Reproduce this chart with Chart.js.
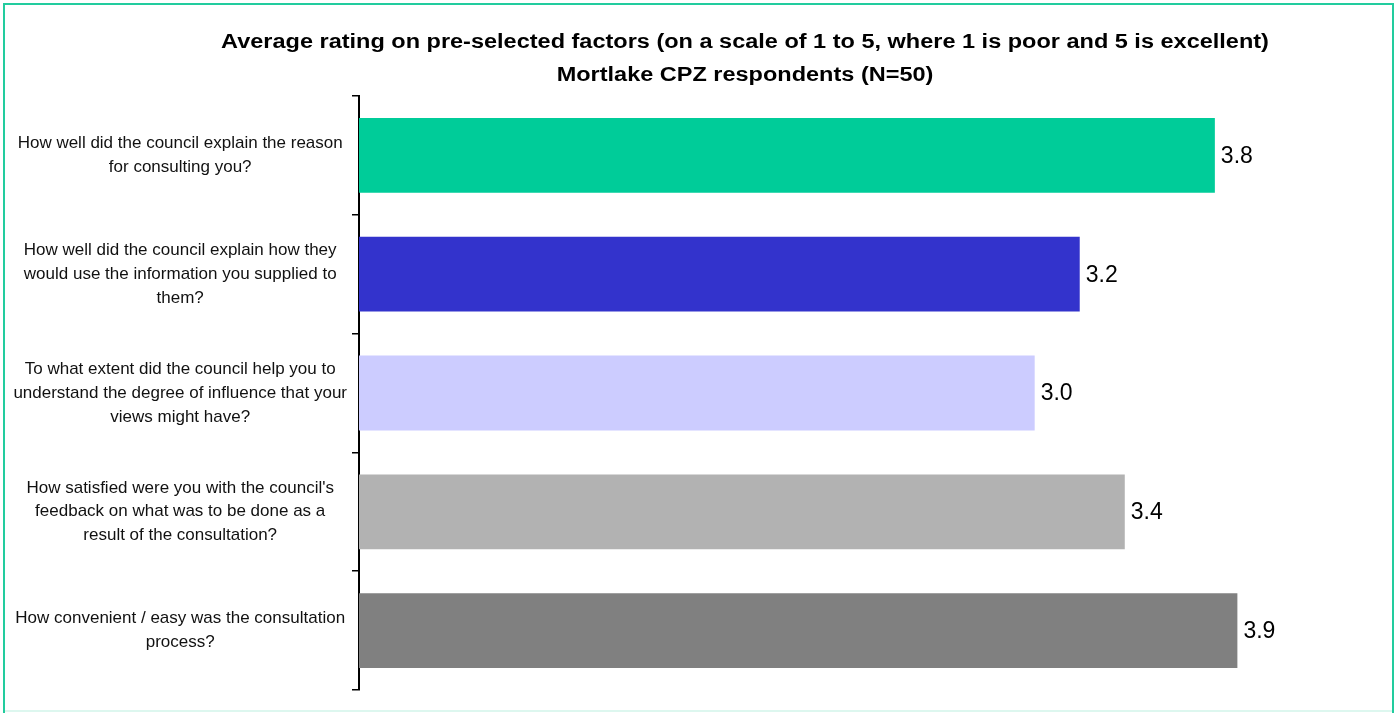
<!DOCTYPE html>
<html>
<head>
<meta charset="utf-8">
<script src="https://cdn.jsdelivr.net/npm/chart.js@4.4.1/dist/chart.umd.min.js"></script>
<style>
  html, body { margin: 0; padding: 0; background: #fff; }
  #wrap { position: relative; width: 1396px; height: 713px; }
</style>
</head>
<body>
<div id="wrap"><canvas id="ratingChart" width="1396" height="713"></canvas></div>
<script>
const titleLines = [
    'Average rating on pre-selected factors (on a scale of 1 to 5, where 1 is poor and 5 is excellent)',
    'Mortlake CPZ respondents (N=50)'
];
const questions = [
    ['How well did the council explain the reason', 'for consulting you?'],
    ['How well did the council explain how they', 'would use the information you supplied to', 'them?'],
    ['To what extent did the council help you to', 'understand the degree of influence that your', 'views might have?'],
    ["How satisfied were you with the council's", 'feedback on what was to be done as a', 'result of the consultation?'],
    ['How convenient / easy was the consultation', 'process?']
];
const ratings = [3.8, 3.2, 3.0, 3.4, 3.9];
const barColours = ['#00CC99', '#3333CC', '#CCCCFF', '#B2B2B2', '#808080'];

const FONT = '"Liberation Sans", Arial, sans-serif';

// outer frame + title drawn by hand so the title can sit off-centre like the original
const framePlugin = {
    id: 'frame',
    beforeDraw(chart) {
        const ctx = chart.ctx;
        ctx.save();
        ctx.fillStyle = '#fff';
        ctx.fillRect(0, 0, chart.width, chart.height);
        ctx.strokeStyle = '#22CC9E';
        ctx.lineWidth = 2;
        ctx.beginPath();
        ctx.moveTo(4, 713);
        ctx.lineTo(4, 4);
        ctx.lineTo(1393, 4);
        ctx.lineTo(1393, 713);
        ctx.stroke();
        ctx.strokeStyle = '#DDF7EF';
        ctx.beginPath();
        ctx.moveTo(5, 711);
        ctx.lineTo(1392, 711);
        ctx.stroke();

        // the original title is a bit wider than plain Arial bold, stretch it sideways
        ctx.fillStyle = '#000';
        ctx.font = 'bold 20px ' + FONT;
        ctx.textAlign = 'center';
        ctx.textBaseline = 'middle';
        ctx.translate(745, 0);
        ctx.scale(1.175, 1);
        ctx.fillText(titleLines[0], 0, 42);
        ctx.fillText(titleLines[1], 0, 75);
        ctx.restore();
    }
};

const valueLabels = {
    id: 'valueLabels',
    afterDatasetsDraw(chart) {
        const ctx = chart.ctx;
        const meta = chart.getDatasetMeta(0);
        ctx.save();
        ctx.fillStyle = '#000';
        ctx.font = '23px ' + FONT;
        ctx.textAlign = 'left';
        ctx.textBaseline = 'middle';
        meta.data.forEach((bar, i) => {
            ctx.fillText(ratings[i].toFixed(1), bar.x + 6, bar.y + 1);
        });
        ctx.restore();
    }
};

new Chart(document.getElementById('ratingChart'), {
    type: 'bar',
    data: {
        labels: questions,
        datasets: [{
            data: ratings,
            backgroundColor: barColours,
            borderWidth: 0,
            barPercentage: 0.63,
            categoryPercentage: 1
        }]
    },
    options: {
        indexAxis: 'y',
        responsive: false,
        animation: false,
        layout: { padding: { top: 96, bottom: 23, left: 0, right: 46 } },
        plugins: {
            legend: { display: false },
            title: { display: false },
            tooltip: { enabled: false }
        },
        scales: {
            x: {
                display: false,
                min: 0,
                max: 4.4
            },
            y: {
                afterFit(scale) {
                    scale.width = 359;
                    scale.paddingTop = 0;
                    scale.paddingBottom = 0;
                },
                border: { display: true, color: '#000', width: 2 },
                grid: { drawOnChartArea: false, tickLength: 7, color: '#000', lineWidth: 1.5 },
                ticks: {
                    crossAlign: 'center',
                    padding: 5,
                    color: '#111',
                    font: { family: FONT, size: 17, lineHeight: 1.41 }
                }
            }
        }
    },
    plugins: [framePlugin, valueLabels]
});
</script>
</body>
</html>
